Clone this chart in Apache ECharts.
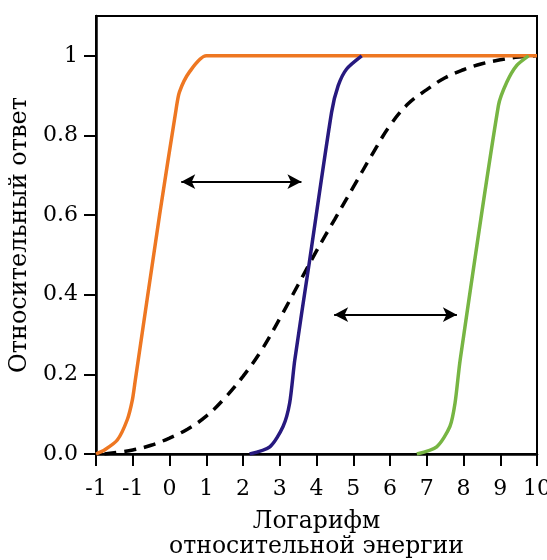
<!DOCTYPE html>
<html>
<head>
<meta charset="utf-8">
<script src="https://cdn.jsdelivr.net/npm/echarts@6/dist/echarts.min.js"></script>
<style>html,body{margin:0;padding:0;background:#fff;}#c{width:547px;height:560px;}</style>
</head>
<body>
<div id="c"></div>
<script>
// Tick labels (x positions -2..10 in data space)
const xTickLabels = ["-1","-1","0","1","2","3","4","5","6","7","8","9","10"];
const yTickValues = [0, 0.2, 0.4, 0.6, 0.8, 1];

// Curves: [log energy, relative response]
const orangeCurve = [[-2,0],[-1.77,0.01],[-1.42,0.035],[-1.15,0.086],[-1.01,0.136],[-0.93,0.186],[-0.27,0.6],[0.18,0.866],[0.27,0.909],[0.54,0.959],[1.0,1.0],[10,1.0]];
const blueCurve = [[2.18,0],[2.73,0.018],[3.09,0.069],[3.27,0.128],[3.41,0.237],[3.79,0.472],[4.41,0.858],[4.59,0.925],[4.82,0.967],[5.23,1.0]];
const greenCurve = [[6.73,0],[7.27,0.018],[7.63,0.069],[7.77,0.128],[7.91,0.237],[8.95,0.875],[9.18,0.934],[9.45,0.976],[9.77,1.0]];
const dashedCurve = [[-1.77,0],[-1,0.01],[-0.5,0.022],[0,0.04],[0.5,0.063],[1.0,0.095],[1.5,0.14],[2.0,0.195],[2.5,0.26],[3.0,0.34],[3.5,0.425],[4.0,0.51],[4.5,0.59],[5.0,0.67],[5.5,0.75],[6.0,0.825],[6.5,0.88],[7.0,0.915],[7.5,0.945],[8.0,0.965],[8.5,0.98],[9.0,0.99],[9.5,0.997],[9.97,1.0]];

// Double-headed arrows: [x1, x2, y]
const arrow1 = [0.32, 3.59, 0.684];
const arrow2 = [4.48, 7.82, 0.35];

const FONT = 'DejaVu Serif';
const chart = echarts.init(document.getElementById('c'), null, {renderer: 'canvas'});

function arrowSeries(a) {
  return {
    type: 'line', data: [], silent: true,
    markLine: {
      silent: true, symbol: ['arrow','arrow'], symbolSize: [11, 14],
      label: {show: false},
      lineStyle: {color: '#000', width: 2.2, type: 'solid'},
      emphasis: {disabled: true},
      data: [[{coord: [a[0], a[2]]}, {coord: [a[1], a[2]]}]]
    }
  };
}

function curve(data, color, z, extra) {
  return Object.assign({type: 'line', data: data, smooth: 0.25, showSymbol: false, symbol: 'none',
    lineStyle: {color: color, width: 3.5}, z: z}, extra || {});
}

chart.setOption({
  animation: false,
  backgroundColor: '#fff',
  grid: {left: 96, right: 10, top: 16, bottom: 106, show: true, borderColor: '#000', borderWidth: 2,
    containLabel: false, outerBoundsMode: 'none'},
  xAxis: {
    type: 'value', min: -2, max: 10, interval: 1,
    axisLine: {onZero: false, lineStyle: {color: '#000', width: 2.5}},
    axisTick: {show: true, length: 12, lineStyle: {color: '#000', width: 2}},
    splitLine: {show: false},
    axisLabel: {color: '#000', fontFamily: FONT, fontSize: 22, margin: 24,
      formatter: v => xTickLabels[Math.round(v + 2)] ?? ''},
    name: 'Логарифм\nотносительной энергии', nameLocation: 'middle', nameGap: 55,
    nameTextStyle: {color: '#000', fontFamily: FONT, fontSize: 23.5, lineHeight: 25}
  },
  yAxis: {
    type: 'value', min: 0, max: 1.1, interval: 0.2,
    axisLine: {onZero: false, lineStyle: {color: '#000', width: 2.5}},
    axisTick: {show: true, length: 12, lineStyle: {color: '#000', width: 2}, customValues: yTickValues},
    splitLine: {show: false},
    axisLabel: {color: '#000', fontFamily: FONT, fontSize: 22, margin: 18, customValues: yTickValues,
      formatter: v => v === 0 ? '0.0' : (v === 1 ? '1' : v.toFixed(1))},
    name: 'Относительный ответ', nameLocation: 'middle', nameGap: 58, nameRotate: 90,
    nameTextStyle: {color: '#000', fontFamily: FONT, fontSize: 24}
  },
  series: [
    curve(dashedCurve, '#000', 2, {smooth: 0.4, lineStyle: {color: '#000', width: 3.5, type: [12, 8]}}),
    curve(orangeCurve, '#EE7722', 3),
    curve(blueCurve, '#27197F', 4),
    curve(greenCurve, '#77B543', 5),
    arrowSeries(arrow1),
    arrowSeries(arrow2)
  ]
});
</script>
</body>
</html>
